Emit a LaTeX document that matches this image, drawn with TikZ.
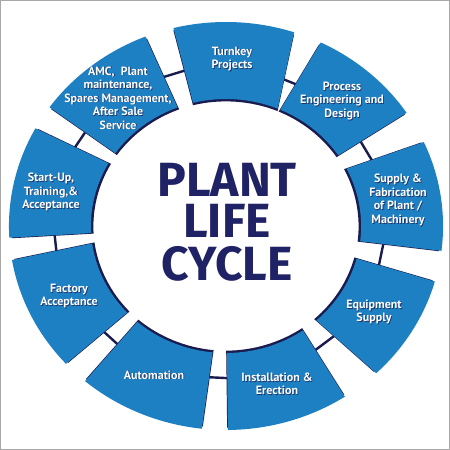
\documentclass[tikz,border=0pt]{standalone}
\usepackage{fontspec}
\setmainfont{PT Sans}
\newfontfamily\plctitlefont{Fira Sans}
\definecolor{segblue}{HTML}{1D80C2}
\definecolor{navy}{HTML}{202266}
\definecolor{shade}{HTML}{1A1B4F}
\definecolor{framegray}{HTML}{A8A8A8}
\newcommand\plcsector[4]{%
  \pgfmathsetmacro\plcmid{(#1+#2)/2+180}%
  \begin{scope}[shift={(\plcmid:2.4)}]
    \fill[segshadow] (#1:204) arc[start angle=#1,end angle=#2,radius=204] -- (#4:127) arc[start angle=#4,end angle=#3,radius=127] -- cycle;
  \end{scope}
  \fill[seg] (#1:204) arc[start angle=#1,end angle=#2,radius=204] -- (#4:127) arc[start angle=#4,end angle=#3,radius=127] -- cycle;
}
\begin{document}
\begin{tikzpicture}[x=1pt,y=1pt,
  seg/.style={fill=segblue},
  segshadow/.style={fill=shade},
  link/.style={draw=shade,line width=2.4pt},
  lbl/.style={text=white,font=\fontsize{12}{13.5}\selectfont\bfseries,align=center,inner sep=0pt},
  lblsh/.style={text=shade,opacity=0.75,font=\fontsize{12}{13.5}\selectfont\bfseries,align=center,inner sep=0pt},
  plctitle/.style={text=navy,font=\plctitlefont\fontsize{48}{42}\selectfont\bfseries,inner sep=0pt,text height=34pt,text depth=0pt}]
\useasboundingbox (0,0) rectangle (450,450);
\fill[white] (0,0) rectangle (450,450);
\draw[framegray,line width=1pt] (0.5,0.5) rectangle (449.5,449.5);

\begin{scope}[shift={(226,224)},xscale=1.064]
  % connector end points
  \coordinate (g1a) at (22:153);  \coordinate (g1b) at (37:153);
  \coordinate (g2a) at (61:157);  \coordinate (g2b) at (73:157);
  \coordinate (g3a) at (101:161); \coordinate (g3b) at (115:161);
  \coordinate (g4a) at (141:163); \coordinate (g4b) at (154:163);
  \coordinate (g5a) at (180:162); \coordinate (g5b) at (192:162);
  \coordinate (g6a) at (219:157); \coordinate (g6b) at (233:157);
  \coordinate (g7a) at (260:153); \coordinate (g7b) at (274:153);
  \coordinate (g8a) at (300:151); \coordinate (g8b) at (317:151);
  \coordinate (g9a) at (341:150); \coordinate (g9b) at (357:150);
  \draw[link] (g1a) -- (g1b);
  \draw[link] (g2a) -- (g2b);
  \draw[link] (g3a) -- (g3b);
  \draw[link] (g4a) -- (g4b);
  \draw[link] (g5a) -- (g5b);
  \draw[link] (g6a) -- (g6b);
  \draw[link] (g7a) -- (g7b);
  \draw[link] (g8a) -- (g8b);
  \draw[link] (g9a) -- (g9b);
  % sectors: outer start, outer end, inner start, inner end
  \plcsector{-7.0}{24.3}{-6.9}{26.8}
  \plcsector{33.7}{64.1}{33.8}{66.3}
  \plcsector{71.7}{104.0}{67.5}{104.1}
  \plcsector{111.8}{144.4}{111.0}{145.0}
  \plcsector{151.4}{183.3}{150.4}{183.2}
  \plcsector{189.6}{222.5}{187.9}{223.0}
  \plcsector{229.5}{263.6}{229.0}{264.3}
  \plcsector{270.5}{303.2}{270.4}{304.7}
  \plcsector{313.8}{344.2}{312.0}{345.1}
\end{scope}

% label shadows
\node[lblsh] (sTurn) at (232.8,390.2) {Turnkey\\Projects};
\node[lblsh] (sProc) at (342.8,348.2) {Process\\Engineering and\\Design};
\node[lblsh] (sSupp) at (398.8,249.2) {Supply \&\\Fabrication\\of Plant /\\Machinery};
\node[lblsh] (sEqui) at (374.8,137.2) {Equipment\\Supply};
\node[lblsh] (sInst) at (277.8,65.2) {Installation \&\\Erection};
\node[lblsh] (sAuto) at (154.8,74.2) {Automation};
\node[lblsh] (sFact) at (69.8,153.2) {Factory\\Acceptance};
\node[lblsh] (sStar) at (51.8,257.2) {Start-Up,\\Training,\&\\Acceptance};
\node[lblsh] (sAmc) at (118.8,351.2) {AMC,\ \ Plant\\maintenance,\\Spares Management,\\After Sale\\Service};
% labels
\node[lbl] (tTurn) at (232,391) {Turnkey\\Projects};
\node[lbl] (tProc) at (342,349) {Process\\Engineering and\\Design};
\node[lbl] (tSupp) at (398,250) {Supply \&\\Fabrication\\of Plant /\\Machinery};
\node[lbl] (tEqui) at (374,138) {Equipment\\Supply};
\node[lbl] (tInst) at (277,66) {Installation \&\\Erection};
\node[lbl] (tAuto) at (154,75) {Automation};
\node[lbl] (tFact) at (69,154) {Factory\\Acceptance};
\node[lbl] (tStar) at (51,258) {Start-Up,\\Training,\&\\Acceptance};
\node[lbl] (tAmc) at (118,352) {AMC,\ \ Plant\\maintenance,\\Spares Management,\\After Sale\\Service};
% title, one node per line
\node[plctitle,anchor=base] (title1) at (227,253) {PLANT};
\node[plctitle,anchor=base] (title2) at (227,212) {LIFE};
\node[plctitle,anchor=base] (title3) at (227,169) {CYCLE};
\end{tikzpicture}
\end{document}
